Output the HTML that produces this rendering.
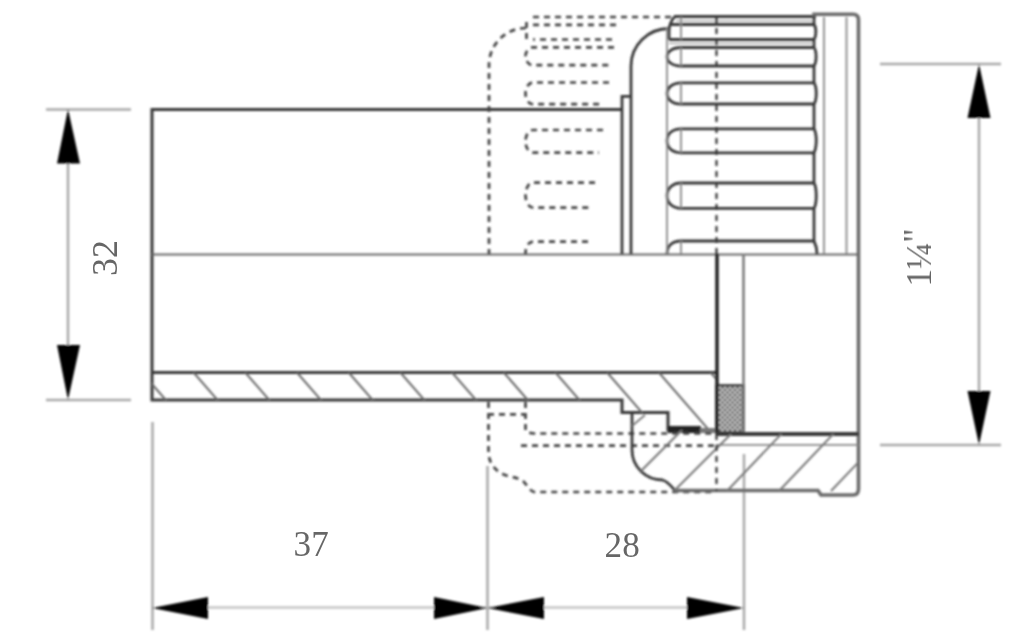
<!DOCTYPE html>
<html><head><meta charset="utf-8">
<style>
html,body{margin:0;padding:0;background:#fff;}
body{width:1024px;height:638px;overflow:hidden;}
svg{display:block;}
text{font-family:"Liberation Serif",serif;fill:#666;}
</style></head>
<body>
<svg width="1024" height="638" viewBox="0 0 1024 638">
<defs>
  <filter id="noop" filterUnits="userSpaceOnUse" x="0" y="0" width="1024" height="638"><feOffset dx="0" dy="0"/></filter>
  <filter id="soft" filterUnits="userSpaceOnUse" x="0" y="0" width="1024" height="638"><feGaussianBlur stdDeviation="1"/></filter>
  <pattern id="xh" width="5" height="5" patternUnits="userSpaceOnUse">
    <rect width="5" height="5" fill="#d8d8d8"/>
    <path d="M0,0 L5,5 M5,0 L0,5" stroke="#555" stroke-width="1.1"/>
  </pattern>
  <clipPath id="wallclip"><path d="M152,372.5 H716 V430 H668 V412.5 H622 V400 H152 Z"/></clipPath>
  <clipPath id="nutclip"><path d="M632,413 H668 V430 H716 V434 H858.5 V487 Q858.5,495 850,495 H819.5 L817,491 H674.6 C670,485 667,481 662.5,480 A30.5,30 0 0 1 632,450 Z"/></clipPath>
</defs>
<rect width="1024" height="638" fill="#fff"/>
<g filter="url(#soft)">

<!-- ============ DIMENSIONS ============ -->
<g stroke="#a8a8a8" stroke-width="2.5" fill="none">
  <!-- 32 -->
  <line x1="46" y1="109.5" x2="131" y2="109.5"/>
  <line x1="46" y1="400" x2="131" y2="400"/>
  <line x1="68" y1="150" x2="68" y2="360"/>
  <!-- bottom -->
  <line x1="152.5" y1="422" x2="152.5" y2="630"/>
  <line x1="487.5" y1="466" x2="487.5" y2="630"/>
  <line x1="744" y1="454" x2="744" y2="630"/>
  <line x1="200" y1="607.5" x2="700" y2="607.5" stroke="#c4c4c4"/>
  <!-- 1 1/4 -->
  <line x1="880" y1="64" x2="1001" y2="64"/>
  <line x1="880" y1="445" x2="1001" y2="445"/>
  <line x1="979" y1="110" x2="979" y2="400"/>
</g>
<g fill="#000">
  <path d="M68,109 L57,163.5 L80,163.5 Z"/>
  <path d="M68,400 L57,345 L80,345 Z"/>
  <path d="M152,608 L208,597 L208,619 Z"/>
  <path d="M487.5,608 L434,597 L434,619 Z"/>
  <path d="M487.5,608 L544,597 L544,619 Z"/>
  <path d="M744,608 L687,597 L687,619 Z"/>
  <path d="M979,64 L967.5,118 L990.5,118 Z"/>
  <path d="M979,445 L967.5,391 L990.5,391 Z"/>
</g>
<!-- ============ PIPE ============ -->
<g stroke="#383838" stroke-width="3" fill="none">
  <path d="M622,109.5 H152 V400 H622 V412.5 H668 V430 H716"/>
  <line x1="152" y1="372.5" x2="716" y2="372.5"/>
</g>
<line x1="152" y1="254.5" x2="858.5" y2="254.5" stroke="#666" stroke-width="2.2"/>
<!-- wall hatch -->
<g clip-path="url(#wallclip)" stroke="#6a6a6a" stroke-width="2">
  <path d="M141.9,372.5 l52,59.8 M193.6,372.5 l52,59.8 M245.3,372.5 l52,59.8 M297,372.5 l52,59.8 M348.7,372.5 l52,59.8 M400.4,372.5 l52,59.8 M452.1,372.5 l52,59.8 M503.8,372.5 l52,59.8 M555.5,372.5 l52,59.8 M607.2,372.5 l52,59.8 M658.9,372.5 l52,59.8 M710.6,372.5 l52,59.8"/>
</g>
<!-- o-ring black bar -->
<rect x="668" y="426" width="33" height="7" fill="#222"/>
<rect x="700" y="428" width="17" height="5" fill="#777"/>
<!-- crosshatch seal -->
<rect x="716.5" y="385.5" width="27" height="47" fill="url(#xh)" stroke="#333" stroke-width="2.5"/>
<line x1="717" y1="254" x2="717" y2="434" stroke="#222" stroke-width="3.5"/>
<line x1="743.5" y1="254" x2="743.5" y2="434" stroke="#777" stroke-width="2.5"/>

<!-- ============ HIDDEN (DASHED) NUT ============ -->
<g stroke="#444" stroke-width="2.7" fill="none" stroke-dasharray="6 5">
  <line x1="533" y1="17" x2="672" y2="17"/>
  <line x1="533" y1="24.9" x2="617" y2="24.9"/>
  <path d="M526.5,22 V40"/>
  <path d="M526,28 A37,37 0 0 0 489,65 V254"/>
  <!-- slots -->
  <path d="M612,39.5 H533"/>
  <path d="M614,47.3 H533 A7.5,8.95 0 0 0 533,65.2 H611"/>
  <path d="M609,82.5 H533 A7.5,10.85 0 0 0 533,104.2 H601"/>
  <path d="M603,130 H533 A7.5,11.35 0 0 0 533,152.7 H599"/>
  <path d="M595,182.6 H533 A7.5,12.5 0 0 0 533,207.6 H589"/>
  <path d="M588,241.7 H533 C528,242 525.5,247 525.5,254"/>
  <!-- lower -->
  <path d="M488.5,402 V454 C490,467 499,474 510,476.5 C517,478 521,479 524,482 C527,485 529,490 534,492 H712"/>
  <path d="M488,414.4 H525.5"/>
  <path d="M525.5,402 V430 C526,432 528,433 534,433.5 H716"/>
  <line x1="521" y1="445.7" x2="716" y2="445.7"/>
</g>

<!-- ============ NUT ============ -->
<g stroke="#383838" stroke-width="2.8" fill="none">
  <!-- left lip -->
  <path d="M622,254 V96.3 H631"/>
  <path d="M631,254 V66 A38,37.5 0 0 1 669,28.5 Q671,20 675,16.5 H816"/>
  <!-- slot 1 -->
  <path d="M669,24.5 H814 M669,39.5 H814"/>
  <path d="M669,28 V39.5"/>
</g>
<g stroke="#383838" stroke-width="2.8" fill="none">
  <path d="M813,47.5 H681 C672,47.5 667,52 667,56.7 C667,61.5 672,66 681,66 H814"/>
  <path d="M813,82.8 H681 C672,82.8 667,88 667,93.4 C667,99 672,104 681,104 H814"/>
  <path d="M813,128.8 H681 C672,128.8 667,134 667,140.8 C667,147.5 672,152.8 681,152.8 H814"/>
  <path d="M813,183 H681 C672,183 667,189 667,195.7 C667,202.5 672,208.3 681,208.3 H814"/>
  <path d="M813,241 H681 C672,241 667,246 667,254"/>
  <!-- body right edge -->
  <path d="M814,16.5 V24.5 C816.5,27.5 816.5,36 814,39.5 V47.5 C816.8,51 816.8,62 814,66 V82.8 C817,87 817,100 814,104 V128.8 C817,134 817,147 814,152.8 V183 C817,188 817,203.5 814,208.3 V241 C816,245 817,250 817,254"/>
  <!-- cap -->
  <path d="M814,16.5 V14.3 H853 Q858.5,14.3 858.5,20 V489 Q858.5,495 853,495 H821 L818,490.5 H674.6" stroke="#6a6a6a" stroke-width="3.6"/>
  <!-- section inner profile -->
  <path d="M632,413 V450 A30.5,30 0 0 0 662.5,480 C667,481 670,485 674.6,490"/>
  <line x1="632" y1="426" x2="645" y2="415" stroke="#777" stroke-width="1.8"/>
  <line x1="716" y1="434" x2="858.5" y2="434" stroke-width="4"/>
</g>
<g stroke="#888" stroke-width="1.8" fill="none">
  <line x1="667" y1="28" x2="667" y2="254"/>
  <path d="M681,17 V39.5 M681,47.5 V66 M681,82.8 V104 M681,128.8 V152.8 M681,183 V208.3 M681,241 V254"/>
  <line x1="824" y1="17" x2="824" y2="254"/>
  <line x1="846.5" y1="17" x2="846.5" y2="254"/>
  <line x1="716" y1="444.8" x2="858.5" y2="444.8"/>
</g>
<g stroke="#9a9a9a" stroke-width="1.3"><line x1="676" y1="20.7" x2="813" y2="20.7"/><line x1="669" y1="43.4" x2="813" y2="43.4"/></g>
<!-- nut section hatch -->
<g clip-path="url(#nutclip)" stroke="#777" stroke-width="2">
  <path d="M569,491 l63,-63 M621,491 l63,-63 M674,491 l63,-63 M727,491 l60,-63 M779,491 l60,-63 M831,491 l60,-63 M883,491 l60,-63"/>
</g>
<!-- center dash-dot line -->
<line x1="716.5" y1="17" x2="716.5" y2="254" stroke="#333" stroke-width="2.2" stroke-dasharray="6 5"/>
<line x1="716.5" y1="434" x2="716.5" y2="491" stroke="#333" stroke-width="2.2" stroke-dasharray="6 5"/>
</g>
<g filter="url(#noop)">
<text x="0" y="0" font-size="36" transform="translate(117,276) rotate(-90)">32</text>
<text x="0" y="0" font-size="36" transform="translate(293.6,556.3) scale(0.975,1)">37</text>
<text x="0" y="0" font-size="36" transform="translate(604.6,556.6) scale(0.975,1)">28</text>
<text x="0" y="0" font-size="35" transform="translate(931,286.5) rotate(-90)">1¼<tspan dy="-3">"</tspan></text>
</g>

</svg>
</body></html>
